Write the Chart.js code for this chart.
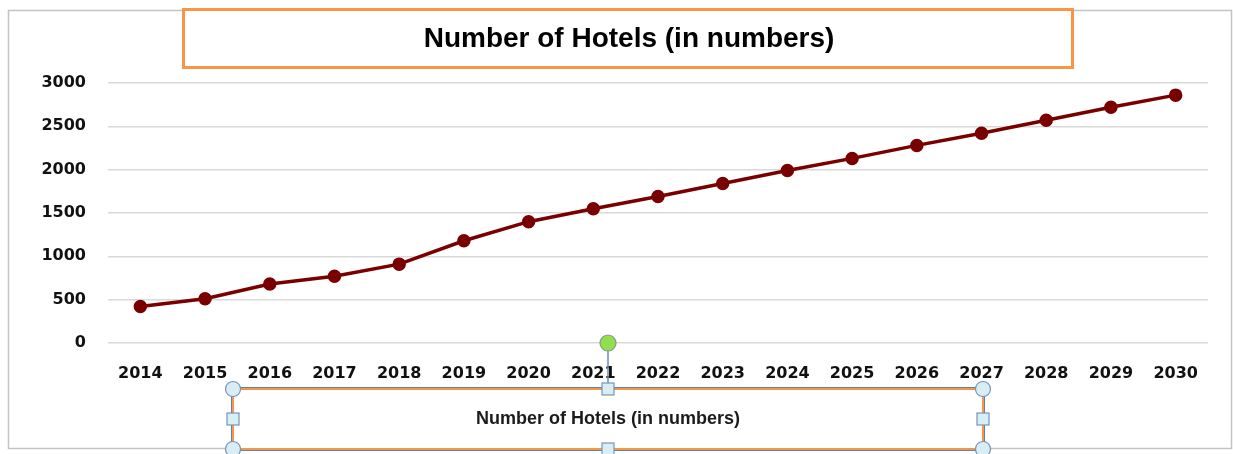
<!DOCTYPE html>
<html>
<head>
<meta charset="utf-8">
<script src="https://cdn.jsdelivr.net/npm/chart.js@4"></script>
<style>
    body { margin: 0; background: #fff; }
    section { width: 1233px; height: 454px; }
</style>
</head>
<body>
<section><canvas id="chart" width="1233" height="454"></canvas></section>
<script>
const years = ['2014', '2015', '2016', '2017', '2018', '2019', '2020', '2021', '2022',
    '2023', '2024', '2025', '2026', '2027', '2028', '2029', '2030'];
const hotels = [420, 510, 680, 770, 910, 1180, 1400, 1550, 1690,
    1840, 1990, 2130, 2280, 2420, 2570, 2720, 2860];
const yMin = 0;
const yMax = 3000;
const yStep = 500;
const chartTitle = 'Number of Hotels (in numbers)';
const boxLabel = 'Number of Hotels (in numbers)';

const ctx = document.getElementById('chart');

// frame, orange boxes and the selection handles around the bottom label
const decorations = {
    id: 'decorations',
    beforeDraw(chart) {
        const c = chart.ctx;
        c.save();
        c.fillStyle = '#fff';
        c.fillRect(0, 0, chart.width, chart.height);
        c.strokeStyle = '#c4c4c4';
        c.lineWidth = 1.5;
        c.strokeRect(8.5, 10.5, 1223, 438);
        c.fillStyle = '#fff';
        c.fillRect(183, 9, 890, 59);
        c.strokeStyle = '#f79646';
        c.lineWidth = 3;
        c.strokeRect(183.5, 9.5, 889, 58);
        c.restore();
    },
    afterDraw(chart) {
        const c = chart.ctx;
        const l = 233, r = 983, t = 389, b = 449, mx = 608, my = 419;
        c.save();
        c.fillStyle = '#fff';
        c.fillRect(l, t, r - l, b - t);
        c.lineWidth = 2;
        c.strokeStyle = '#f79646';
        c.strokeRect(l, t, r - l, b - t);
        c.lineWidth = 1;
        c.strokeStyle = '#5f82ad';
        c.strokeRect(l - 1.5, t - 1.5, r - l + 3, b - t + 3);

        c.fillStyle = '#1b1b1b';
        c.font = 'bold 18px "Liberation Sans", Arial, sans-serif';
        c.textAlign = 'center';
        c.textBaseline = 'middle';
        c.fillText(boxLabel, mx, my);

        // rotate handle
        c.strokeStyle = '#6b8cb5';
        c.lineWidth = 1.5;
        c.beginPath();
        c.moveTo(mx, 343);
        c.lineTo(mx, t);
        c.stroke();
        c.beginPath();
        c.arc(mx, 343, 8, 0, Math.PI * 2);
        c.fillStyle = '#8fe04c';
        c.fill();
        c.strokeStyle = '#8a9a8a';
        c.lineWidth = 1.2;
        c.stroke();

        c.fillStyle = '#d9edf5';
        c.strokeStyle = '#7795b8';
        c.lineWidth = 1.2;
        [[l, t], [r, t], [l, b], [r, b]].forEach(p => {
            c.beginPath();
            c.arc(p[0], p[1], 7.5, 0, Math.PI * 2);
            c.fill();
            c.stroke();
        });
        [[mx, t], [mx, b], [l, my], [r, my]].forEach(p => {
            c.fillRect(p[0] - 6, p[1] - 6, 12, 12);
            c.strokeRect(p[0] - 6, p[1] - 6, 12, 12);
        });
        c.restore();
    }
};

let chart = new Chart(ctx, {
    type: 'line',
    data: {
        labels: years,
        datasets: [{
            label: chartTitle,
            data: hotels,
            borderColor: '#7a0000',
            backgroundColor: '#7a0000',
            borderWidth: 3.5,
            pointRadius: 5,
            pointHoverRadius: 5,
            pointBackgroundColor: '#7a0000',
            pointBorderColor: '#7a0000',
            tension: 0
        }]
    },
    options: {
        responsive: false,
        animation: false,
        layout: { padding: { left: 25, right: 0, top: 0, bottom: 0 } },
        plugins: {
            legend: { display: false },
            tooltip: { enabled: false },
            title: {
                display: true,
                text: chartTitle,
                color: '#000',
                font: { family: '"Liberation Sans", Arial, sans-serif', size: 28, weight: 'bold' },
                padding: { top: 22, bottom: 27.4 }
            }
        },
        scales: {
            x: {
                offset: true,
                grid: { display: false, drawTicks: false },
                border: { display: false },
                ticks: {
                    color: '#111',
                    padding: 21,
                    maxRotation: 0,
                    autoSkip: false,
                    font: { family: '"DejaVu Sans", Verdana, sans-serif', size: 16, weight: 'bold' }
                },
                afterFit(scale) { scale.height = 111; }
            },
            y: {
                min: yMin,
                max: yMax,
                grid: { color: '#d9d9d9', lineWidth: 1.5, drawTicks: false },
                border: { display: false },
                ticks: {
                    stepSize: yStep,
                    color: '#111',
                    padding: 22,
                    font: { family: '"DejaVu Sans", Verdana, sans-serif', size: 16, weight: 'bold' },
                    callback: value => String(value)
                },
                afterFit(scale) { scale.width = 83; }
            },
            // empty right-hand axis, only keeps the margin on the right
            right: {
                position: 'right',
                min: yMin,
                max: yMax,
                grid: { display: false, drawTicks: false },
                border: { display: false },
                ticks: { display: false },
                afterFit(scale) { scale.width = 25; }
            }
        }
    },
    plugins: [decorations]
});
</script>
</body>
</html>
